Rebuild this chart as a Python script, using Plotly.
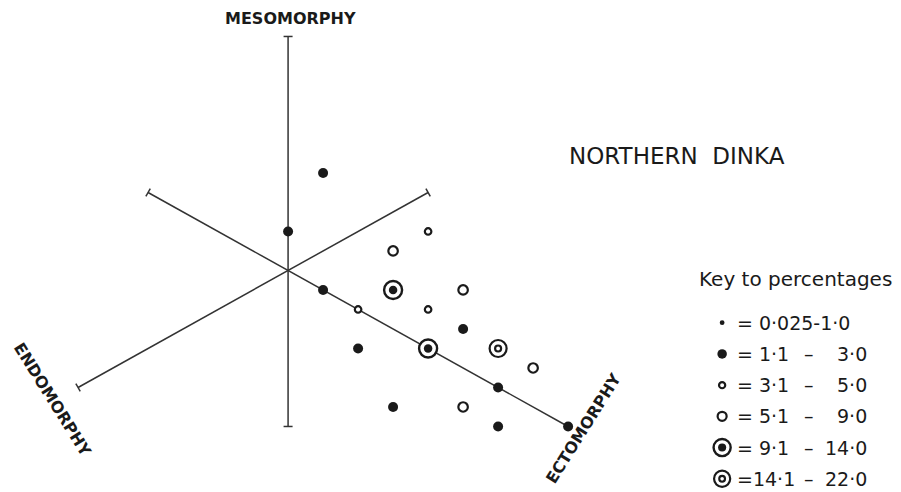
import numpy as np
import plotly.graph_objects as go

W, H = 901, 492

# Somatochart coordinates: X = ecto - endo, Y = 2*meso - endo - ecto
pt_x = [1, 0, 1, 2, 2, 3, 4, 3, 3, 5, 4, 5, 4, 6, 7, 6, 5, 6, 8]
pt_y = [5, 2, -1, -2, -4, -7, 2, 1, -1, -1, -2, -3, -4, -4, -5, -6, -7, -8, -8]
# percentage class of each somatotype (index into the key below)
pt_cls = [1, 1, 1, 2, 1, 1, 2, 3, 4, 3, 2, 1, 4, 5, 3, 1, 3, 1, 1]

# Key to percentages
key_low = ["0·025", "1·1", "3·1", "5·1", "9·1", "14·1"]
key_high = ["1·0", "3·0", "5·0", "9·0", "14·0", "22·0"]

# Axis arms (start, end) in chart coordinates
meso_arm = [(0, -8), (0, 12)]
endo_arm = [(-6, -6), (4, 4)]
ecto_arm = [(-4, 4), (8, -8)]

# Plot ranges chosen so one X unit = 35 px and one Y unit = 19.5 px
X_RANGE = [-8.23, 17.51]
Y_RANGE = [-11.36, 13.87]
PX_X = W / (X_RANGE[1] - X_RANGE[0])
PX_Y = H / (Y_RANGE[1] - Y_RANGE[0])

INK = "#1a1a1a"
LINE = "#333333"
FONT = "DejaVu Sans"

fig = go.Figure()

# --- axes of the somatochart ---
for arm in (meso_arm, endo_arm, ecto_arm):
    (x0, y0), (x1, y1) = arm
    fig.add_trace(go.Scatter(x=[x0, x1], y=[y0, y1], mode="lines",
                             line=dict(color=LINE, width=1.5),
                             hoverinfo="skip", showlegend=False))


def end_tick(p, q, half=4.5):
    """Short bar across the arm p->q, drawn at q."""
    dx_px = (q[0] - p[0]) * PX_X
    dy_px = (q[1] - p[1]) * PX_Y
    n = np.hypot(dx_px, dy_px)
    ux, uy = -dy_px / n * half, dx_px / n * half
    return ([q[0] - ux / PX_X, q[0] + ux / PX_X],
            [q[1] - uy / PX_Y, q[1] + uy / PX_Y])


tick_ends = [(meso_arm[0], meso_arm[1]), (meso_arm[1], meso_arm[0]),
             (endo_arm[0], endo_arm[1]), (endo_arm[1], endo_arm[0]),
             (ecto_arm[1], ecto_arm[0])]
for p, q in tick_ends:
    tx, ty = end_tick(p, q)
    fig.add_trace(go.Scatter(x=tx, y=ty, mode="lines",
                             line=dict(color=LINE, width=1.5),
                             hoverinfo="skip", showlegend=False))

# --- marker styles per percentage class: list of (size, fill, line width) layers ---
styles = [
    [(5, INK, 0)],
    [(10, INK, 0)],
    [(6.5, "white", 2.2)],
    [(9.5, "white", 2.2)],
    [(18, "white", 2.4), (8.5, INK, 0)],
    [(17, "white", 2.2), (6, "white", 2.2)],
]


def draw(xs, ys, cls, scale=1.0):
    for c, layers in enumerate(styles):
        sx = [x for x, k in zip(xs, cls) if k == c]
        sy = [y for y, k in zip(ys, cls) if k == c]
        if not sx:
            continue
        for size, fill, lw in layers:
            fig.add_trace(go.Scatter(
                x=sx, y=sy, mode="markers",
                marker=dict(symbol="circle", size=size * scale, color=fill,
                            line=dict(color=INK, width=lw)),
                hoverinfo="skip", showlegend=False))


draw(pt_x, pt_y, pt_cls)

# --- key ---
key_x = 12.4
key_y0 = -2.68
key_step = -1.6
key_rows = list(range(len(key_low)))
draw([key_x] * len(key_rows), [key_y0 + i * key_step for i in key_rows], key_rows, 0.95)

annotations = []
txt = dict(family=FONT, size=19, color=INK)
for i in key_rows:
    y = key_y0 + i * key_step
    if i == 0:
        annotations.append(dict(x=12.78, y=y, text=f"=\u00a0{key_low[i]}-{key_high[i]}",
                                xanchor="left", font=txt))
        continue
    sep = "" if len(key_low[i]) > 3 else "\u00a0"
    annotations.append(dict(x=12.78, y=y, text=f"={sep}{key_low[i]}",
                            xanchor="left", font=txt))
    annotations.append(dict(x=14.88, y=y, text="–", xanchor="center", font=txt))
    annotations.append(dict(x=16.6, y=y, text=key_high[i], xanchor="right", font=txt))

annotations.append(dict(x=14.5, y=-0.44, text="Key to percentages", xanchor="center",
                        font=dict(family=FONT, size=20, color=INK)))
annotations.append(dict(x=11.11, y=5.87, text="NORTHERN  DINKA", xanchor="center",
                        font=dict(family=FONT, size=23, color=INK)))

axis_font = dict(family=FONT, size=16, color=INK, weight="bold")
annotations.append(dict(x=0.06, y=12.9, text="MESOMORPHY", font=axis_font))
annotations.append(dict(x=-6.74, y=-6.64, text="ENDOMORPHY", textangle=58, font=axis_font))
annotations.append(dict(x=8.43, y=-8.08, text="ECTOMORPHY", textangle=-58, font=axis_font))

for a in annotations:
    a.setdefault("showarrow", False)
    a.setdefault("yanchor", "middle")
    a.setdefault("xref", "x")
    a.setdefault("yref", "y")

fig.update_layout(
    width=W, height=H,
    margin=dict(l=0, r=0, t=0, b=0),
    paper_bgcolor="white", plot_bgcolor="white",
    xaxis=dict(range=X_RANGE, visible=False, fixedrange=True),
    yaxis=dict(range=Y_RANGE, visible=False, fixedrange=True),
    annotations=annotations,
    showlegend=False,
)

fig.write_html("out.html")
